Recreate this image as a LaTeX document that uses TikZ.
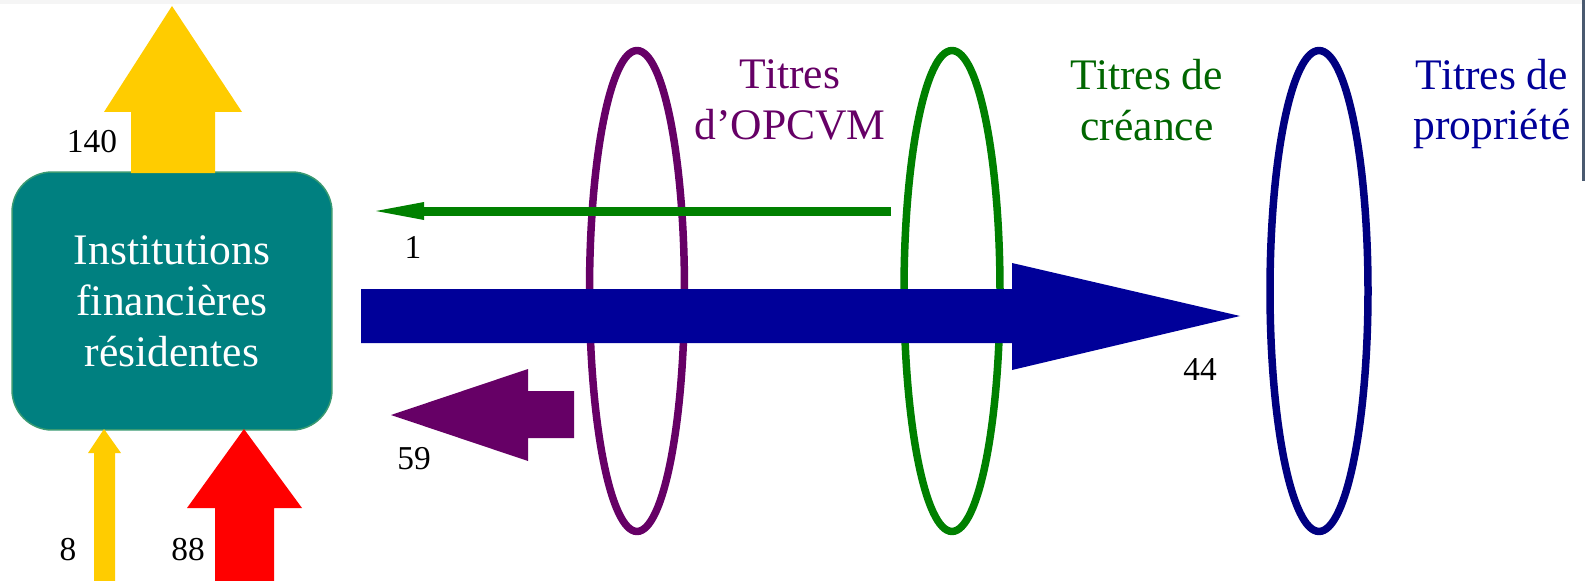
\documentclass[tikz,border=0pt]{standalone}
\usepackage{fontspec}
\setmainfont{Liberation Serif}
\usetikzlibrary{shapes.geometric}
\definecolor{tealbox}{HTML}{008080}
\definecolor{tealedge}{HTML}{3A9A72}
\definecolor{gold}{HTML}{FFCC00}
\definecolor{redflow}{HTML}{FF0000}
\definecolor{opcvm}{HTML}{660066}
\definecolor{creance}{HTML}{008000}
\definecolor{creancetxt}{HTML}{006600}
\definecolor{propr}{HTML}{000080}
\definecolor{proprtxt}{HTML}{000099}
\definecolor{bluearrow}{HTML}{000099}
\definecolor{edgebar}{HTML}{4A5A70}
\tikzset{
  ring/.style={ellipse, draw=#1, line width=0.15cm, inner sep=0pt,
    minimum height=9.62cm},
  titletext/.style={text=#1, align=center, inner sep=0pt,
    font=\fontsize{24.8}{29}\selectfont},
  amount/.style={anchor=base, inner sep=0pt, font=\fontsize{19}{23}\selectfont},
}
\begin{document}
\begin{tikzpicture}[x=0.02cm, y=-0.02cm]
\useasboundingbox (0,0) rectangle (1585,581);
\fill[white] (0,0) rectangle (1585,581);
\fill[black!4] (0,0) rectangle (1585,4);
\fill[edgebar] (1582,0) rectangle (1585,181);

% groups of securities
\node[ring=opcvm,   minimum width=1.90cm] (eopc) at (637,291) {};
\node[ring=creance, minimum width=1.92cm] (ecre) at (952,291) {};
\node[ring=propr,   minimum width=1.96cm] (epro) at (1319,291) {};

\node[titletext=opcvm]     (topc) at (790,100)  {Titres\\d’OPCVM};
\node[titletext=creancetxt](tcre) at (1147,100) {Titres de\\créance};
\node[titletext=proprtxt]  (tpro) at (1492,104) {Titres de\\propriété};

% the sector
\node[draw=tealedge, line width=0.03cm, fill=tealbox, rounded corners=0.8cm,
  minimum width=6.4cm, minimum height=5.16cm, text=white, align=center,
  font=\fontsize{24.8}{29}\selectfont] (ifr) at (172,301)
  {Institutions\\ financières\\résidentes};

% flows
\fill[gold] (131,173) -- (131,112) -- (104,112) -- (172,6) -- (242,112)
  -- (215,112) -- (215,173) -- cycle;
\fill[gold] (94,581) -- (94,453) -- (88,453) -- (104,429) -- (121,453)
  -- (115,453) -- (115,581) -- cycle;
\fill[redflow] (215,581) -- (215,508) -- (187,508) -- (244,429) -- (302,508)
  -- (274,508) -- (274,581) -- cycle;

\coordinate (gstart) at (891,211);
\coordinate (gend) at (424,211);
\draw[creance, line width=0.18cm] (gstart) -- (gend);
\fill[creance] (424,202) -- (376,211) -- (424,220) -- cycle;

\fill[bluearrow] (361,289) -- (1012,289) -- (1012,263) -- (1240,316)
  -- (1012,370) -- (1012,343) -- (361,343) -- cycle;

\fill[opcvm] (574,391) -- (528,391) -- (528,369) -- (391,415) -- (528,461)
  -- (528,438) -- (574,438) -- cycle;

% amounts
\node[amount] (n140) at (92,153) {140};
\node[amount] (n1)   at (413,258) {1};
\node[amount] (n44)  at (1200,380) {44};
\node[amount] (n59)  at (414,469) {59};
\node[amount] (n8)   at (68,560) {8};
\node[amount] (n88)  at (188,560) {88};
\end{tikzpicture}
\end{document}
